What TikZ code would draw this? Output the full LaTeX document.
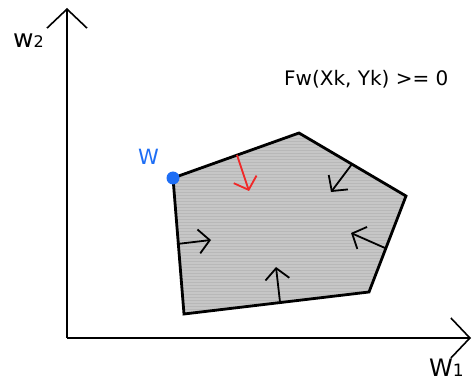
\documentclass[tikz,border=0pt]{standalone}
\usepackage{fontspec}
\setmainfont{DejaVu Sans}
\usetikzlibrary{arrows.meta}
\definecolor{fillgray}{RGB}{198,198,198}
\definecolor{stripegray}{RGB}{184,184,184}
\definecolor{dotblue}{RGB}{30,110,245}
\definecolor{arrred}{RGB}{240,40,40}
\tikzset{
  axis/.style={line width=1.6pt,-{Straight Barb[length=19pt,width=40pt,line width=1.6pt]}},
  normal/.style={line width=1.8pt,-{Straight Barb[length=11pt,width=24pt,line width=1.8pt]}},
  lbl/.style={inner sep=0pt,anchor=base west},
}
\begin{document}
\begin{tikzpicture}[x=1pt,y=-1pt]
\useasboundingbox (0,0) rectangle (472,382);
% axes
\coordinate (O) at (67,338);
\coordinate (Ytop) at (67,8);
\coordinate (Xend) at (471,338);
\draw[axis] (O) -- (Ytop);
\draw[axis] (O) -- (Xend);
\node[lbl,font=\fontsize{25}{25}\selectfont] (w2) at (13,48) {w\fontsize{16}{16}\selectfont 2};
\node[lbl,text depth=0pt,font=\fontsize{24}{24}\selectfont] (w1) at (429,376.5) {W\fontsize{17}{17}\selectfont 1};
% polygon
\coordinate (A) at (173,178);
\coordinate (B) at (299,133);
\coordinate (C) at (406,196);
\coordinate (D) at (369,292);
\coordinate (E) at (184,314);
\fill[fillgray] (A) -- (B) -- (C) -- (D) -- (E) -- cycle;
\begin{scope}
\clip (A) -- (B) -- (C) -- (D) -- (E) -- cycle;
\foreach \y in {130,133,...,318} \draw[stripegray,line width=1pt] (170,\y) -- (410,\y);
\end{scope}
\draw[line width=2.8pt,line join=miter] (A) -- (B) -- (C) -- (D) -- (E) -- cycle;
% normals
\coordinate (r1) at (237,155); \coordinate (r2) at (249,191);
\draw[normal,arrred] (r1) -- (r2);
\coordinate (n1a) at (352,164); \coordinate (n1b) at (331,192);
\draw[normal] (n1a) -- (n1b);
\coordinate (n2a) at (385,248); \coordinate (n2b) at (351,233);
\draw[normal] (n2a) -- (n2b);
\coordinate (n3a) at (177,244); \coordinate (n3b) at (211,240);
\draw[normal] (n3a) -- (n3b);
\coordinate (n4a) at (280,302); \coordinate (n4b) at (276,267);
\draw[normal] (n4a) -- (n4b);
% point W
\fill[dotblue] (A) circle (6.5pt);
\node[lbl,text=dotblue,font=\fontsize{21}{21}\selectfont] (wlab) at (138,165) {W};
% formula
\node[lbl,font=\fontsize{20}{20}\selectfont] (f) at (284,86) {Fw(Xk, Yk) >= 0};
\end{tikzpicture}
\end{document}
